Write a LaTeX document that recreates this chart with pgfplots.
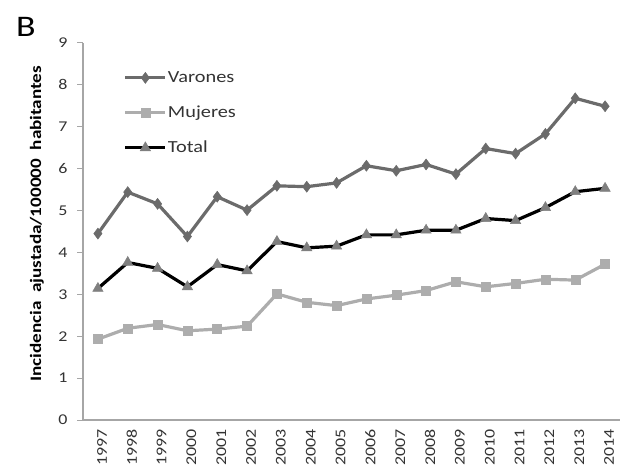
\documentclass[border=0pt]{standalone}
\usepackage{pgfplots}
\pgfplotsset{compat=1.18}
\usepackage{fontspec}
\setmainfont{Carlito}[FakeStretch=1.2]

\definecolor{varcol}{HTML}{6B6B6B}
\definecolor{mujcol}{HTML}{ADADAD}
\definecolor{totmark}{HTML}{7F7F7F}
\definecolor{axcol}{HTML}{A6A6A6}

\begin{document}
\begin{tikzpicture}
\useasboundingbox (-83bp,-52bp) rectangle (544bp,420bp);
\node[anchor=north west, inner sep=0pt, font=\fontsize{30}{32}\selectfont] at (-67bp,403bp) {B};
\begin{axis}[
  scale only axis,
  width=537bp, height=377bp,
  anchor=south west, at={(0,0)},
  xmin=1996.5, xmax=2014.5,
  ymin=0, ymax=9,
  ytick={0,1,...,9},
  xtick={1997,1998,...,2014},
  axis x line*=bottom, axis y line*=left,
  axis line style={axcol, line width=1.3bp, -},
  y tick style={axcol, line width=1bp},
  x tick style={draw=none},
  tick align=outside,
  major tick length=6bp,
  /pgf/number format/assume math mode=true,
  /pgf/number format/1000 sep={},
  tick label style={font=\fontsize{15}{17}\selectfont, text=black!80},
  xticklabel style={rotate=90, anchor=east, yshift=-4bp},
  yticklabel style={xshift=-6bp},
  ylabel={\textbf{Incidencia\ \ ajustada/100000\ \ habitantes}},
  y label style={at={(axis description cs:-0.0857,0.52)}, anchor=center, font=\fontsize{16}{18}\selectfont},
  legend cell align=left,
  legend style={draw=none, fill=none, at={(axis description cs:0.07,0.935)}, anchor=north west,
    font=\fontsize{17}{19}\selectfont, text=black!80, row sep=18bp,
    nodes={inner xsep=1bp, inner ysep=2bp}},
  legend image code/.code={%
    \draw[mark repeat=2, mark phase=2] plot coordinates {(0bp,0bp) (20bp,0bp) (40bp,0bp)};},
  every axis plot/.append style={line width=3.2bp},
]
\addplot[varcol, mark=diamond*, mark size=5.5bp, mark options={solid, fill=varcol, draw=varcol, line width=0.5bp}]
  coordinates {
  (1997,4.45) (1998,5.44) (1999,5.16) (2000,4.38) (2001,5.33) (2002,5.01)
  (2003,5.59) (2004,5.57) (2005,5.66) (2006,6.07) (2007,5.95) (2008,6.10)
  (2009,5.87) (2010,6.48) (2011,6.36) (2012,6.83) (2013,7.68) (2014,7.49)};
\addlegendentry{Varones}
\addplot[mujcol, mark=square*, mark size=4.5bp, mark options={solid, fill=mujcol, draw=mujcol, line width=0.5bp}]
  coordinates {
  (1997,1.93) (1998,2.19) (1999,2.28) (2000,2.13) (2001,2.17) (2002,2.24)
  (2003,3.01) (2004,2.81) (2005,2.73) (2006,2.89) (2007,2.98) (2008,3.09)
  (2009,3.30) (2010,3.18) (2011,3.26) (2012,3.36) (2013,3.34) (2014,3.72)};
\addlegendentry{Mujeres}
\addplot[black, mark=triangle*, mark size=6bp, mark options={solid, fill=totmark, draw=totmark, line width=0.5bp}]
  coordinates {
  (1997,3.14) (1998,3.76) (1999,3.62) (2000,3.18) (2001,3.71) (2002,3.56)
  (2003,4.26) (2004,4.11) (2005,4.15) (2006,4.42) (2007,4.42) (2008,4.53)
  (2009,4.53) (2010,4.81) (2011,4.76) (2012,5.07) (2013,5.45) (2014,5.53)};
\addlegendentry{Total}
\end{axis}
\end{tikzpicture}
\end{document}
